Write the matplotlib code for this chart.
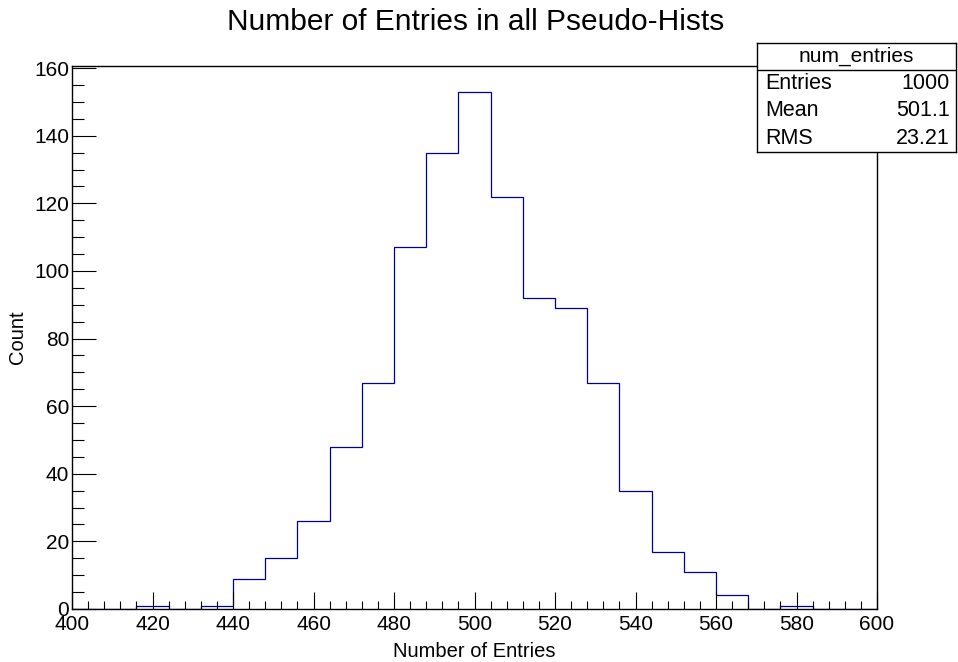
import numpy as np
import matplotlib.pyplot as plt
from matplotlib.ticker import MultipleLocator

plt.rcParams['font.family'] = ['Liberation Sans', 'DejaVu Sans']

# bin edges 400..600, width 8
edges = np.arange(400, 601, 8)
counts = [0, 0, 1, 0, 1, 9, 15, 26, 48, 67, 107, 135, 153,
          122, 92, 89, 67, 35, 17, 11, 4, 0, 1, 0, 0]
hist_name = "num_entries"
stat_labels = ["Entries", "Mean", "RMS"]
stat_values = ["1000", "501.1", "23.21"]

W, H = 958, 662
fig = plt.figure(figsize=(W / 100, H / 100), dpi=100)

# main axes (pixel box: x 72-877, y 66-609)
ax = fig.add_axes([72 / W, (H - 609) / H, (877 - 72) / W, (609 - 66) / H])
ax.stairs(counts, edges, baseline=0, color='#000099', lw=0.9)
ax.set_xlim(400, 600)
ax.set_ylim(0, 1.05 * max(counts))

ax.xaxis.set_major_locator(MultipleLocator(20))
ax.xaxis.set_minor_locator(MultipleLocator(4))
ax.yaxis.set_major_locator(MultipleLocator(20))
ax.yaxis.set_minor_locator(MultipleLocator(5))
ax.tick_params(which='both', direction='in', top=False, right=False,
               width=0.8, color='black', labelsize=15)
ax.tick_params(axis='x', which='major', length=12, pad=4)
ax.tick_params(axis='x', which='minor', length=6)
ax.tick_params(axis='y', which='major', length=17, pad=2)
ax.tick_params(axis='y', which='minor', length=8.5)
for sp in ax.spines.values():
    sp.set_linewidth(1.0)

ax.set_xlabel("Number of Entries", fontsize=14.5, labelpad=6)
ax.set_ylabel("Count", fontsize=14.5, labelpad=5)
fig.text(476 / W, 1 - 22 / H, "Number of Entries in all Pseudo-Hists",
         ha='center', va='center', fontsize=21.5)

# stats box
sb = fig.add_axes([757 / W, (H - 152) / H, (956 - 757) / W, (152 - 43) / H])
sb.set_xticks([])
sb.set_yticks([])
sb.set_xlim(0, 1)
sb.set_ylim(0, 1)
for sp in sb.spines.values():
    sp.set_linewidth(1.0)
hdr = (152 - 70) / (152 - 43)
sb.axhline(hdr, color='black', lw=1.0)
sb.text(0.5, (hdr + 1) / 2, hist_name, ha='center', va='center', fontsize=15)
rows = np.linspace(hdr, 0, len(stat_labels) + 1)
for i in range(len(stat_labels)):
    yc = (rows[i] + rows[i + 1]) / 2
    sb.text(0.04, yc, stat_labels[i], ha='left', va='center', fontsize=15.5)
    sb.text(0.97, yc, stat_values[i], ha='right', va='center', fontsize=15.5)

fig.savefig("out.png", dpi=100)
